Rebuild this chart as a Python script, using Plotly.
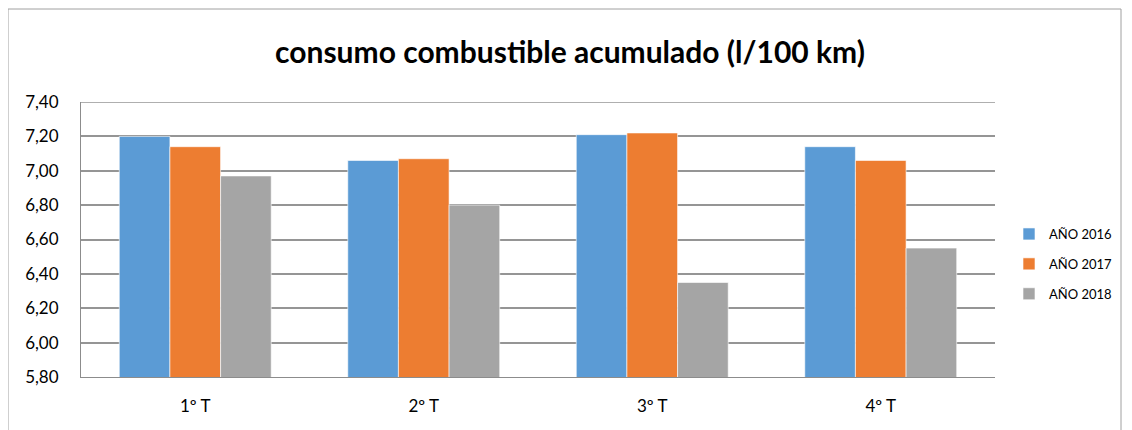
import plotly.graph_objects as go

categories = ["1º T", "2º T", "3º T", "4º T"]
series_names = ["AÑO 2016", "AÑO 2017", "AÑO 2018"]
values_2016 = [7.20, 7.06, 7.21, 7.14]
values_2017 = [7.14, 7.07, 7.22, 7.06]
values_2018 = [6.97, 6.80, 6.35, 6.55]
colors = ["#5b9bd5", "#ed7d31", "#a5a5a5"]
y_ticks = [5.8, 6.0, 6.2, 6.4, 6.6, 6.8, 7.0, 7.2, 7.4]
y_tick_labels = ["5,80", "6,00", "6,20", "6,40", "6,60", "6,80", "7,00", "7,20", "7,40"]

FONT = "Lato, Open Sans, sans-serif"

fig = go.Figure()
for name, vals, col in zip(series_names, [values_2016, values_2017, values_2018], colors):
    fig.add_trace(go.Bar(
        x=categories, y=vals, name=name, legendgroup=name,
        marker=dict(color=col, line=dict(color="rgba(255,255,255,0.6)", width=1)),
    ))

# page body has an 8px margin: the figure starts at (8, 8) on screen
OFF = 8
W, H = 1132 - OFF, 430 - OFF
ml, mr, mt, mb = 81 - OFF, 137, 102 - OFF, 53
pw, ph = W - ml - mr, H - mt - mb

def px_x(p):
    return (p - OFF - ml) / pw

def px_y(p):
    return (H - mb - (p - OFF)) / ph

fig.update_layout(
    width=W, height=H,
    margin=dict(l=ml, r=mr, t=mt, b=mb, autoexpand=False),
    paper_bgcolor="white", plot_bgcolor="white",
    barmode="group", bargap=0.335, bargroupgap=0,
    title=dict(text="<b>consumo combustible acumulado (l/100 km)</b>",
               x=0.5, xanchor="center", y=1 - (52 - OFF) / H, yanchor="middle",
               font=dict(family=FONT, size=30, color="#000000")),
    font=dict(family=FONT, color="#000000"),
    xaxis=dict(showline=True, linecolor="#8c8c8c", linewidth=1,
               tickfont=dict(size=17, color="#000000"), ticks="", showgrid=False,
               ticklabelstandoff=14),
    yaxis=dict(range=[5.8, 7.4], tickvals=y_ticks, ticktext=y_tick_labels,
               showline=True, linecolor="#8c8c8c", linewidth=1,
               showgrid=True, gridcolor="#959595", gridwidth=1.5,
               tickfont=dict(size=17, color="#000000"), ticks="", ticklen=0,
               ticklabelstandoff=18, zeroline=False),
    legend=dict(x=px_x(1009), y=px_y(219), xanchor="left", yanchor="top",
                font=dict(size=13, family=FONT, color="#000000"),
                itemwidth=30, tracegroupgap=10, bgcolor="rgba(0,0,0,0)"),
    showlegend=True,
)

fig.add_shape(type="rect", xref="paper", yref="paper",
              x0=px_x(OFF), x1=px_x(1121), y0=px_y(445), y1=px_y(9),
              line=dict(color="#a0a0a0", width=1), fillcolor="rgba(0,0,0,0)", layer="below")
fig.add_shape(type="line", xref="paper", yref="y", x0=0, x1=1, y0=7.4, y1=7.4,
              line=dict(color="#959595", width=1.5))

fig.write_html("out.html")
